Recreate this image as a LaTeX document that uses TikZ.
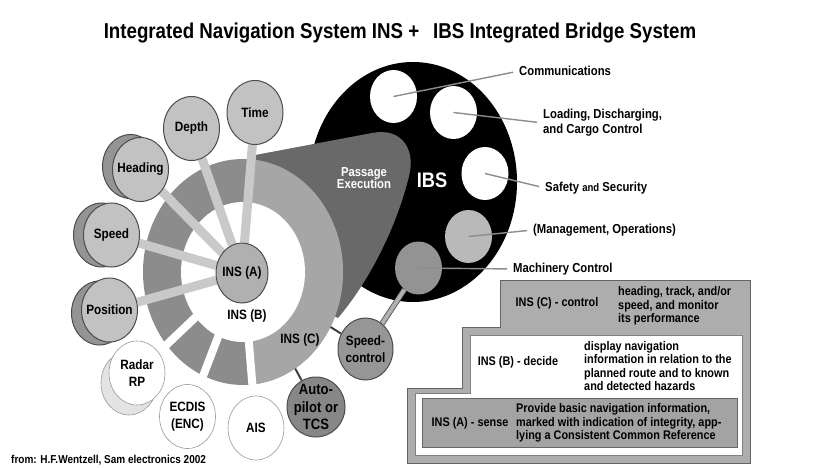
\documentclass[tikz,border=0pt]{standalone}
\usepackage{fontspec}
\setmainfont{Liberation Sans}[FakeStretch=0.87]
\usetikzlibrary{positioning,shapes.geometric,backgrounds}

\definecolor{ringdark}{gray}{0.55}
\definecolor{ringlight}{gray}{0.65}
\definecolor{spokegray}{gray}{0.79}
\definecolor{discgray}{gray}{0.76}
\definecolor{shadegray}{gray}{0.58}
\definecolor{passgray}{gray}{0.41}
\definecolor{boxgray}{gray}{0.68}
\definecolor{leadgray}{gray}{0.55}

\tikzset{
	disc/.style={ellipse,draw=black!70,line width=1pt,fill=discgray,minimum width=56pt,minimum height=64pt,inner sep=0pt},
	whitedisc/.style={disc,fill=white,draw=black!40,line width=0.6pt},
	ibsdisc/.style={ellipse,fill=white,minimum width=47pt,minimum height=53pt,inner sep=0pt},
	disctext/.style={label={[align=center,inner sep=0pt,font=\fontsize{13.5}{17}\selectfont\bfseries]center:#1}},
	spokeline/.style={spokegray,line width=9pt},
	ringgap/.style={white,line width=8pt},
	stubline/.style={black!75,line width=2pt},
	linkline/.style={draw=black!70,line width=0.8pt,double=gray!62,double distance=4pt},
	leader/.style={leadgray,line width=1.4pt,shorten >=6pt},
	boxtext/.style={anchor=west,align=left,inner sep=0pt,font=\fontsize{12.5}{13.5}\selectfont\bfseries}
}

\begin{document}
\begin{tikzpicture}[x=1pt,y=-1pt,font=\bfseries]
	\useasboundingbox (0,0) rectangle (835,468);
	\coordinate (hub) at (243,272);

	\node[font=\fontsize{21.5}{24}\selectfont\bfseries] (title) at (400,33) {Integrated Navigation System INS +\hspace{14pt}IBS Integrated Bridge System};

	% IBS discs
	\node[ibsdisc] (ibsa) at (393.5,96.5) {};
	\node[ibsdisc] (ibsb) at (453.5,112.5) {};
	\node[ibsdisc] (ibsc) at (485,173.5) {};
	\node[ibsdisc,fill=gray!55] (ibsd) at (468.5,236.5) {};
	\node[ibsdisc,fill=gray!85] (ibse) at (418.5,268) {};

	\node[text=white,font=\fontsize{21}{24}\selectfont\bfseries] (ibs) at (432,180) {IBS};
	\node[text=white,align=center,font=\fontsize{13}{12.5}\selectfont\bfseries] (passage) at (364,178) {Passage\\Execution};

	% navigation discs
	\begin{scope}[every node/.style={disc}]
		\node[fill=shadegray] (headingback) at (130.5,166.5) {};
		\node[fill=shadegray] (speedback) at (101.5,235) {};
		\node[fill=shadegray] (positionback) at (99.5,313) {};
		\node[whitedisc,fill=gray!22] (radarback) at (129,383) {};
		\node[disctext=Time] (time) at (255,112.5) {};
		\node[disctext=Depth] (depth) at (191.5,128.5) {};
		\node[disctext=Heading] (heading) at (140.5,169.5) {};
		\node[disctext=Speed] (speed) at (111.5,235) {};
		\node[disctext=Position] (position) at (109.5,310) {};
		\node[whitedisc,disctext={Radar\\RP}] (radar) at (137,373) {};
		\node[whitedisc,disctext={ECDIS\\(ENC)}] (ecdis) at (187.5,416.5) {};
		\node[whitedisc,disctext=AIS] (ais) at (256,428) {};
		\node[fill=gray!94,minimum width=58pt,minimum height=60pt,
			label={[align=center,inner sep=0pt,font=\fontsize{15}{17.5}\selectfont\bfseries]center:Auto-\\pilot or\\TCS}] (autopilot) at (316,407) {};
		\node[fill=gray!82,minimum width=55pt,minimum height=62pt,disctext={Speed-\\control}] (speedctl) at (365.5,349) {};
		\node[fill=gray!62,minimum width=52pt,minimum height=60pt,disctext={INS (A)}] (insa) at (242,273) {};
	\end{scope}

	\node[font=\fontsize{13.5}{16}\selectfont\bfseries] (insb) at (247,316) {INS (B)};
	\node[font=\fontsize{13.5}{16}\selectfont\bfseries] (insc) at (300,340) {INS (C)};

	\begin{pgfonlayer}{background}
		\fill[black] (413,182) ellipse [x radius=104, y radius=120];
		\fill[passgray] (250,156) -- (372,133) .. controls (402,127) and (416,150) .. (409,176)
			.. controls (398,222) and (372,278) .. (338,318) -- (hub) -- cycle;
		\path (ibse) edge[linkline] (speedctl);
		\path (hub) edge[stubline] (speedctl);
		\path (hub) edge[stubline] (autopilot);
		% ring
		\fill[ringdark] (hub) ellipse [x radius=100, y radius=113];
		\fill[ringlight] (hub) -- ++(-86:100 and 113) arc [start angle=-86, end angle=85, x radius=100, y radius=113] -- cycle;
		\fill[white] (hub) ellipse [x radius=62, y radius=70];
		\foreach \n in {radar,ecdis,ais}
			\path (hub) edge[ringgap] (\n);
		\foreach \n in {time,depth,heading,speed,position}
			\path (insa) edge[spokeline] (\n);
	\end{pgfonlayer}

	% IBS labels
	\begin{scope}[every node/.style={anchor=west,align=left,inner sep=0pt,font=\fontsize{13}{15}\selectfont\bfseries}]
		\node (comms) at (519,71) {Communications};
		\node (loading) at (543,123) {Loading, Discharging,\\and Cargo Control};
		\node (safety) at (545,188) {Safety {\fontsize{11}{12}\selectfont and} Security};
		\node (manage) at (533,230) {(Management, Operations)};
		\node (machine) at (513,269) {Machinery Control};
	\end{scope}
	\path (ibsa.center) edge[leader] (comms.west);
	\path (ibsb.center) edge[leader] (loading.west);
	\path (ibsc.center) edge[leader] (safety.west);
	\path (ibsd.center) edge[leader] (manage.west);
	\path (ibse.center) edge[leader] (machine.west);

	% levels box
	\filldraw[fill=boxgray,draw=black!60] (500,280) -- (750,280) -- (750,463) -- (407,463) -- (407,388)
		-- (462,388) -- (462,327) -- (500,327) -- cycle;
	\filldraw[fill=white,draw=black!50] (470,335) -- (742,335) -- (742,455) -- (415,455) -- (415,393) -- (470,393) -- cycle;
	\filldraw[fill=gray!72,draw=black!60] (422,398) rectangle (737,447);

	\node[font=\fontsize{12.5}{13.5}\selectfont\bfseries] (cctl) at (557,303) {INS (C) - control};
	\node[boxtext] (cdesc) at (618,306) {heading, track, and/or\\speed, and monitor\\its performance};
	\node[font=\fontsize{12.5}{13.5}\selectfont\bfseries] (bdec) at (518,362) {INS (B) - decide};
	\node[boxtext] (bdesc) at (584,366) {display navigation\\information in relation to the\\planned route and to known\\and detected hazards};
	\node[font=\fontsize{12.5}{13.5}\selectfont\bfseries] (asen) at (470,423) {INS (A) - sense};
	\node[boxtext] (adesc) at (516,423) {Provide basic navigation information,\\marked with indication of integrity, app-\\lying a Consistent Common Reference};

	\node[anchor=west,inner sep=0pt,font=\fontsize{11.5}{13}\selectfont\bfseries] (source) at (11,460) {from: H.F.Wentzell, Sam electronics 2002};
\end{tikzpicture}
\end{document}
